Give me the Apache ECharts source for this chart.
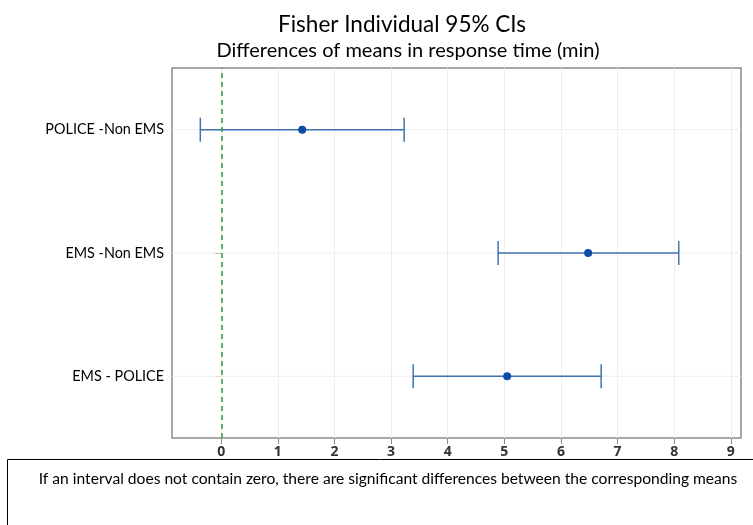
<!DOCTYPE html>
<html><head><meta charset="utf-8">
<script src="https://cdn.jsdelivr.net/npm/echarts@6/dist/echarts.min.js"></script>
<style>html,body{margin:0;padding:0;background:#fff}#c{width:753px;height:525px}</style>
</head><body><div id="c"></div>
<script>
const categories = ['EMS - POLICE', 'EMS -Non EMS', 'POLICE -Non EMS'];
const lower = [3.39, 4.89, -0.37];
const means = [5.05, 6.48, 1.43];
const upper = [6.71, 8.08, 3.23];
const xTicks = [0, 1, 2, 3, 4, 5, 6, 7, 8, 9];
const titleText = 'Fisher Individual 95% CIs';
const subTitleText = 'Differences of means in response time (min)';
const noteText = 'If an interval does not contain zero, there are significant differences between the corresponding means';

const FONT = 'Lato, "Open Sans", sans-serif';
const chart = echarts.init(document.getElementById('c'));
const blue = '#3e72b0';
const ciData = categories.map((c, i) => [i, lower[i], upper[i]]);

chart.setOption({
  animation: false,
  backgroundColor: '#fff',
  title: [
    { text: titleText, left: 397, top: 8, textAlign: 'center',
      textStyle: { fontFamily: FONT, fontSize: 22.5, fontWeight: 'normal', color: '#000' } },
    { text: subTitleText, left: 403, top: 36, textAlign: 'center',
      textStyle: { fontFamily: FONT, fontSize: 20, fontWeight: 'normal', color: '#000' } }
  ],
  grid: { left: 172, right: 12, top: 68, bottom: 87, show: true, borderColor: '#8a8a8a', borderWidth: 1.5, backgroundColor: 'transparent' },
  xAxis: {
    type: 'value', min: -0.87, max: 9.18,
    axisLine: { show: false },
    axisTick: { show: true, length: 6, customValues: xTicks, lineStyle: { color: '#8a8a8a' } },
    axisLabel: { customValues: xTicks, color: '#333', fontSize: 14, fontWeight: 'bold', fontFamily: '"Open Sans", sans-serif', margin: 7 },
    splitLine: { show: true, lineStyle: { color: '#eeeeee', width: 1 } }
  },
  yAxis: {
    type: 'category', data: categories,
    axisLine: { show: false },
    axisTick: { show: true, alignWithLabel: true, length: 6, lineStyle: { color: '#8a8a8a' } },
    axisLabel: { color: '#000', fontSize: 14.4, fontFamily: FONT, margin: 8 },
    splitLine: { show: false }
  },
  series: [
    {
      type: 'line', data: [], markLine: { symbol: 'none', silent: true, label: { show: false },
        lineStyle: { color: '#2f9a40', type: [5, 4], width: 1.5 },
        data: [{ xAxis: 0 }] }
    },
    {
      type: 'custom', data: ciData, z: 3,
      renderItem: function (params, api) {
        const cat = api.value(0);
        const lo = api.coord([api.value(1), cat]);
        const hi = api.coord([api.value(2), cat]);
        const h = 12;
        const style = { stroke: blue, lineWidth: 1.5, fill: null };
        const gl = api.coord([-0.87, cat]);
        const gr = api.coord([9.18, cat]);
        return { type: 'group', children: [
          { type: 'line', shape: { x1: gl[0], y1: gl[1], x2: gr[0], y2: gr[1] }, style: { stroke: '#eeeeee', lineWidth: 1 }, z2: -1 },
          { type: 'line', shape: { x1: lo[0], y1: lo[1], x2: hi[0], y2: hi[1] }, style: style },
          { type: 'line', shape: { x1: lo[0], y1: lo[1] - h, x2: lo[0], y2: lo[1] + h }, style: style },
          { type: 'line', shape: { x1: hi[0], y1: hi[1] - h, x2: hi[0], y2: hi[1] + h }, style: style }
        ]};
      }
    },
    {
      type: 'scatter', data: means.map((m, i) => [m, i]), symbol: 'circle', symbolSize: 8, z: 4,
      itemStyle: { color: '#0a4fa3', opacity: 1 }
    }
  ],
  graphic: [
    { type: 'rect', shape: { x: 7.5, y: 459.5, width: 760, height: 80 }, style: { fill: 'none', stroke: '#000', lineWidth: 1 } },
    { type: 'text', x: 388, y: 479, style: { text: noteText, fontFamily: FONT, fontSize: 15.6, fill: '#000', align: 'center', verticalAlign: 'middle' } }
  ]
});
</script></body></html>
